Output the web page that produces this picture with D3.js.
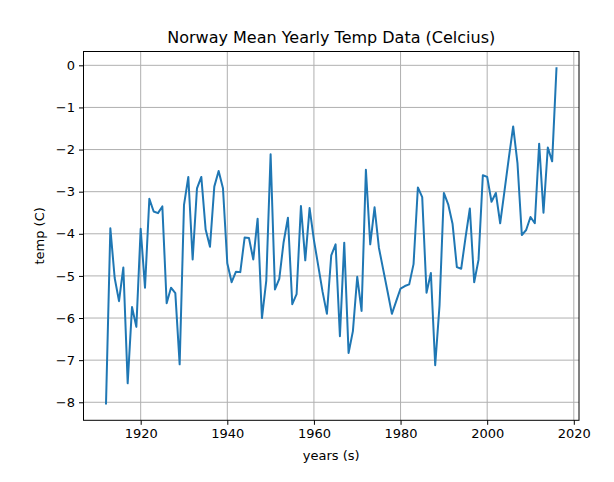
<!DOCTYPE html>
<html>
<head>
<meta charset="utf-8">
<script src="https://cdn.jsdelivr.net/npm/d3@7"></script>
<style>
body{margin:0;background:#fff;}
text{font-family:"DejaVu Sans",sans-serif;fill:#000;}
.grid line{stroke:#b0b0b0;stroke-width:1;}
</style>
</head>
<body>
<script>
var years=[1912,1913,1914,1915,1916,1917,1918,1919,1920,1921,1922,1923,1924,1925,1926,1927,1928,1929,1930,1931,1932,1933,1934,1935,1936,1937,1938,1939,1940,1941,1942,1943,1944,1945,1946,1947,1948,1949,1950,1951,1952,1953,1954,1955,1956,1957,1958,1959,1960,1961,1962,1963,1964,1965,1966,1967,1968,1969,1970,1971,1972,1973,1974,1975,1976,1977,1978,1979,1980,1981,1982,1983,1984,1985,1986,1987,1988,1989,1990,1991,1992,1993,1994,1995,1996,1997,1998,1999,2000,2001,2002,2003,2004,2005,2006,2007,2008,2009,2010,2011,2012,2013,2014,2015,2016];
var temps=[-8.03,-3.87,-5.05,-5.6,-4.8,-7.55,-5.74,-6.21,-3.88,-5.28,-3.17,-3.47,-3.51,-3.35,-5.65,-5.28,-5.41,-7.10,-3.32,-2.65,-4.61,-2.92,-2.65,-3.90,-4.31,-2.88,-2.51,-2.92,-4.70,-5.15,-4.90,-4.91,-4.09,-4.10,-4.61,-3.64,-6.0,-5.11,-2.11,-5.32,-5.07,-4.2,-3.62,-5.67,-5.43,-3.34,-4.63,-3.39,-4.15,-4.76,-5.38,-5.90,-4.51,-4.25,-6.43,-4.21,-6.83,-6.31,-5.02,-5.83,-2.48,-4.25,-3.37,-4.33,-4.85,-5.37,-5.90,-5.6,-5.30,-5.24,-5.20,-4.72,-2.90,-3.13,-5.40,-4.93,-7.12,-5.70,-3.03,-3.30,-3.76,-4.79,-4.83,-4.09,-3.40,-5.15,-4.62,-2.61,-2.65,-3.24,-3.03,-3.75,-2.98,-2.2,-1.45,-2.33,-4.03,-3.91,-3.60,-3.75,-1.86,-3.50,-1.95,-2.28,-0.07];
var xticks=[1920,1940,1960,1980,2000,2020];
var yticks=[-8,-7,-6,-5,-4,-3,-2,-1,0];
var title="Norway Mean Yearly Temp Data (Celcius)";

var W=614,H=482;
var pl=83.5,pr=579,pt=51.5,pb=420.3;
var svg=d3.select("body").append("svg").attr("width",W).attr("height",H);

// matplotlib style 5% margins
function pad(ext){var d=(ext[1]-ext[0])*0.05;return [ext[0]-d,ext[1]+d];}
var xscale=d3.scaleLinear().domain(pad(d3.extent(years))).range([pl,pr]);
var yscale=d3.scaleLinear().domain(pad(d3.extent(temps))).range([pb,pt]);

var grid=svg.append("g").attr("class","grid");
grid.selectAll("line.gx").data(xticks).enter().append("line").attr("class","gx")
	.attr("x1",function(d){return xscale(d);}).attr("x2",function(d){return xscale(d);})
	.attr("y1",pt).attr("y2",pb);
grid.selectAll("line.gy").data(yticks).enter().append("line").attr("class","gy")
	.attr("y1",function(d){return yscale(d);}).attr("y2",function(d){return yscale(d);})
	.attr("x1",pl).attr("x2",pr);

var data=years.map(function(y,i){return {year:y,temp:temps[i]};});
svg.append("path").datum(data).attr("fill","none").attr("stroke","#1f77b4").attr("stroke-width",2)
	.attr("stroke-linejoin","round").attr("stroke-linecap","square")
	.attr("d",d3.line().x(function(d){return xscale(d.year);}).y(function(d){return yscale(d.temp);}));

var xaxis=d3.axisBottom(xscale).tickValues(xticks).tickSize(4.5).tickPadding(4).tickFormat(d3.format("d"));
var yaxis=d3.axisLeft(yscale).tickValues(yticks).tickSize(4.5).tickPadding(4);
var gx=svg.append("g").attr("transform","translate(0,"+pb+")").call(xaxis);
var gy=svg.append("g").attr("transform","translate("+pl+",0)").call(yaxis);
[gx,gy].forEach(function(g){
	g.select(".domain").remove();
	g.selectAll("line").attr("stroke","#000").attr("stroke-width",1);
	g.selectAll("text").attr("font-size",13).attr("font-family","DejaVu Sans");
});

svg.append("rect").attr("x",pl).attr("y",pt).attr("width",pr-pl).attr("height",pb-pt)
	.attr("fill","none").attr("stroke","#000").attr("stroke-width",1);

svg.append("text").attr("x",(pl+pr)/2).attr("y",43).attr("text-anchor","middle").attr("font-size",16).text(title);
svg.append("text").attr("x",(pl+pr)/2).attr("y",460).attr("text-anchor","middle").attr("font-size",13).text("years (s)");
svg.append("text").attr("transform","translate(44,"+((pt+pb)/2)+") rotate(-90)").attr("text-anchor","middle").attr("font-size",13).text("temp (C)");
</script>
</body>
</html>
